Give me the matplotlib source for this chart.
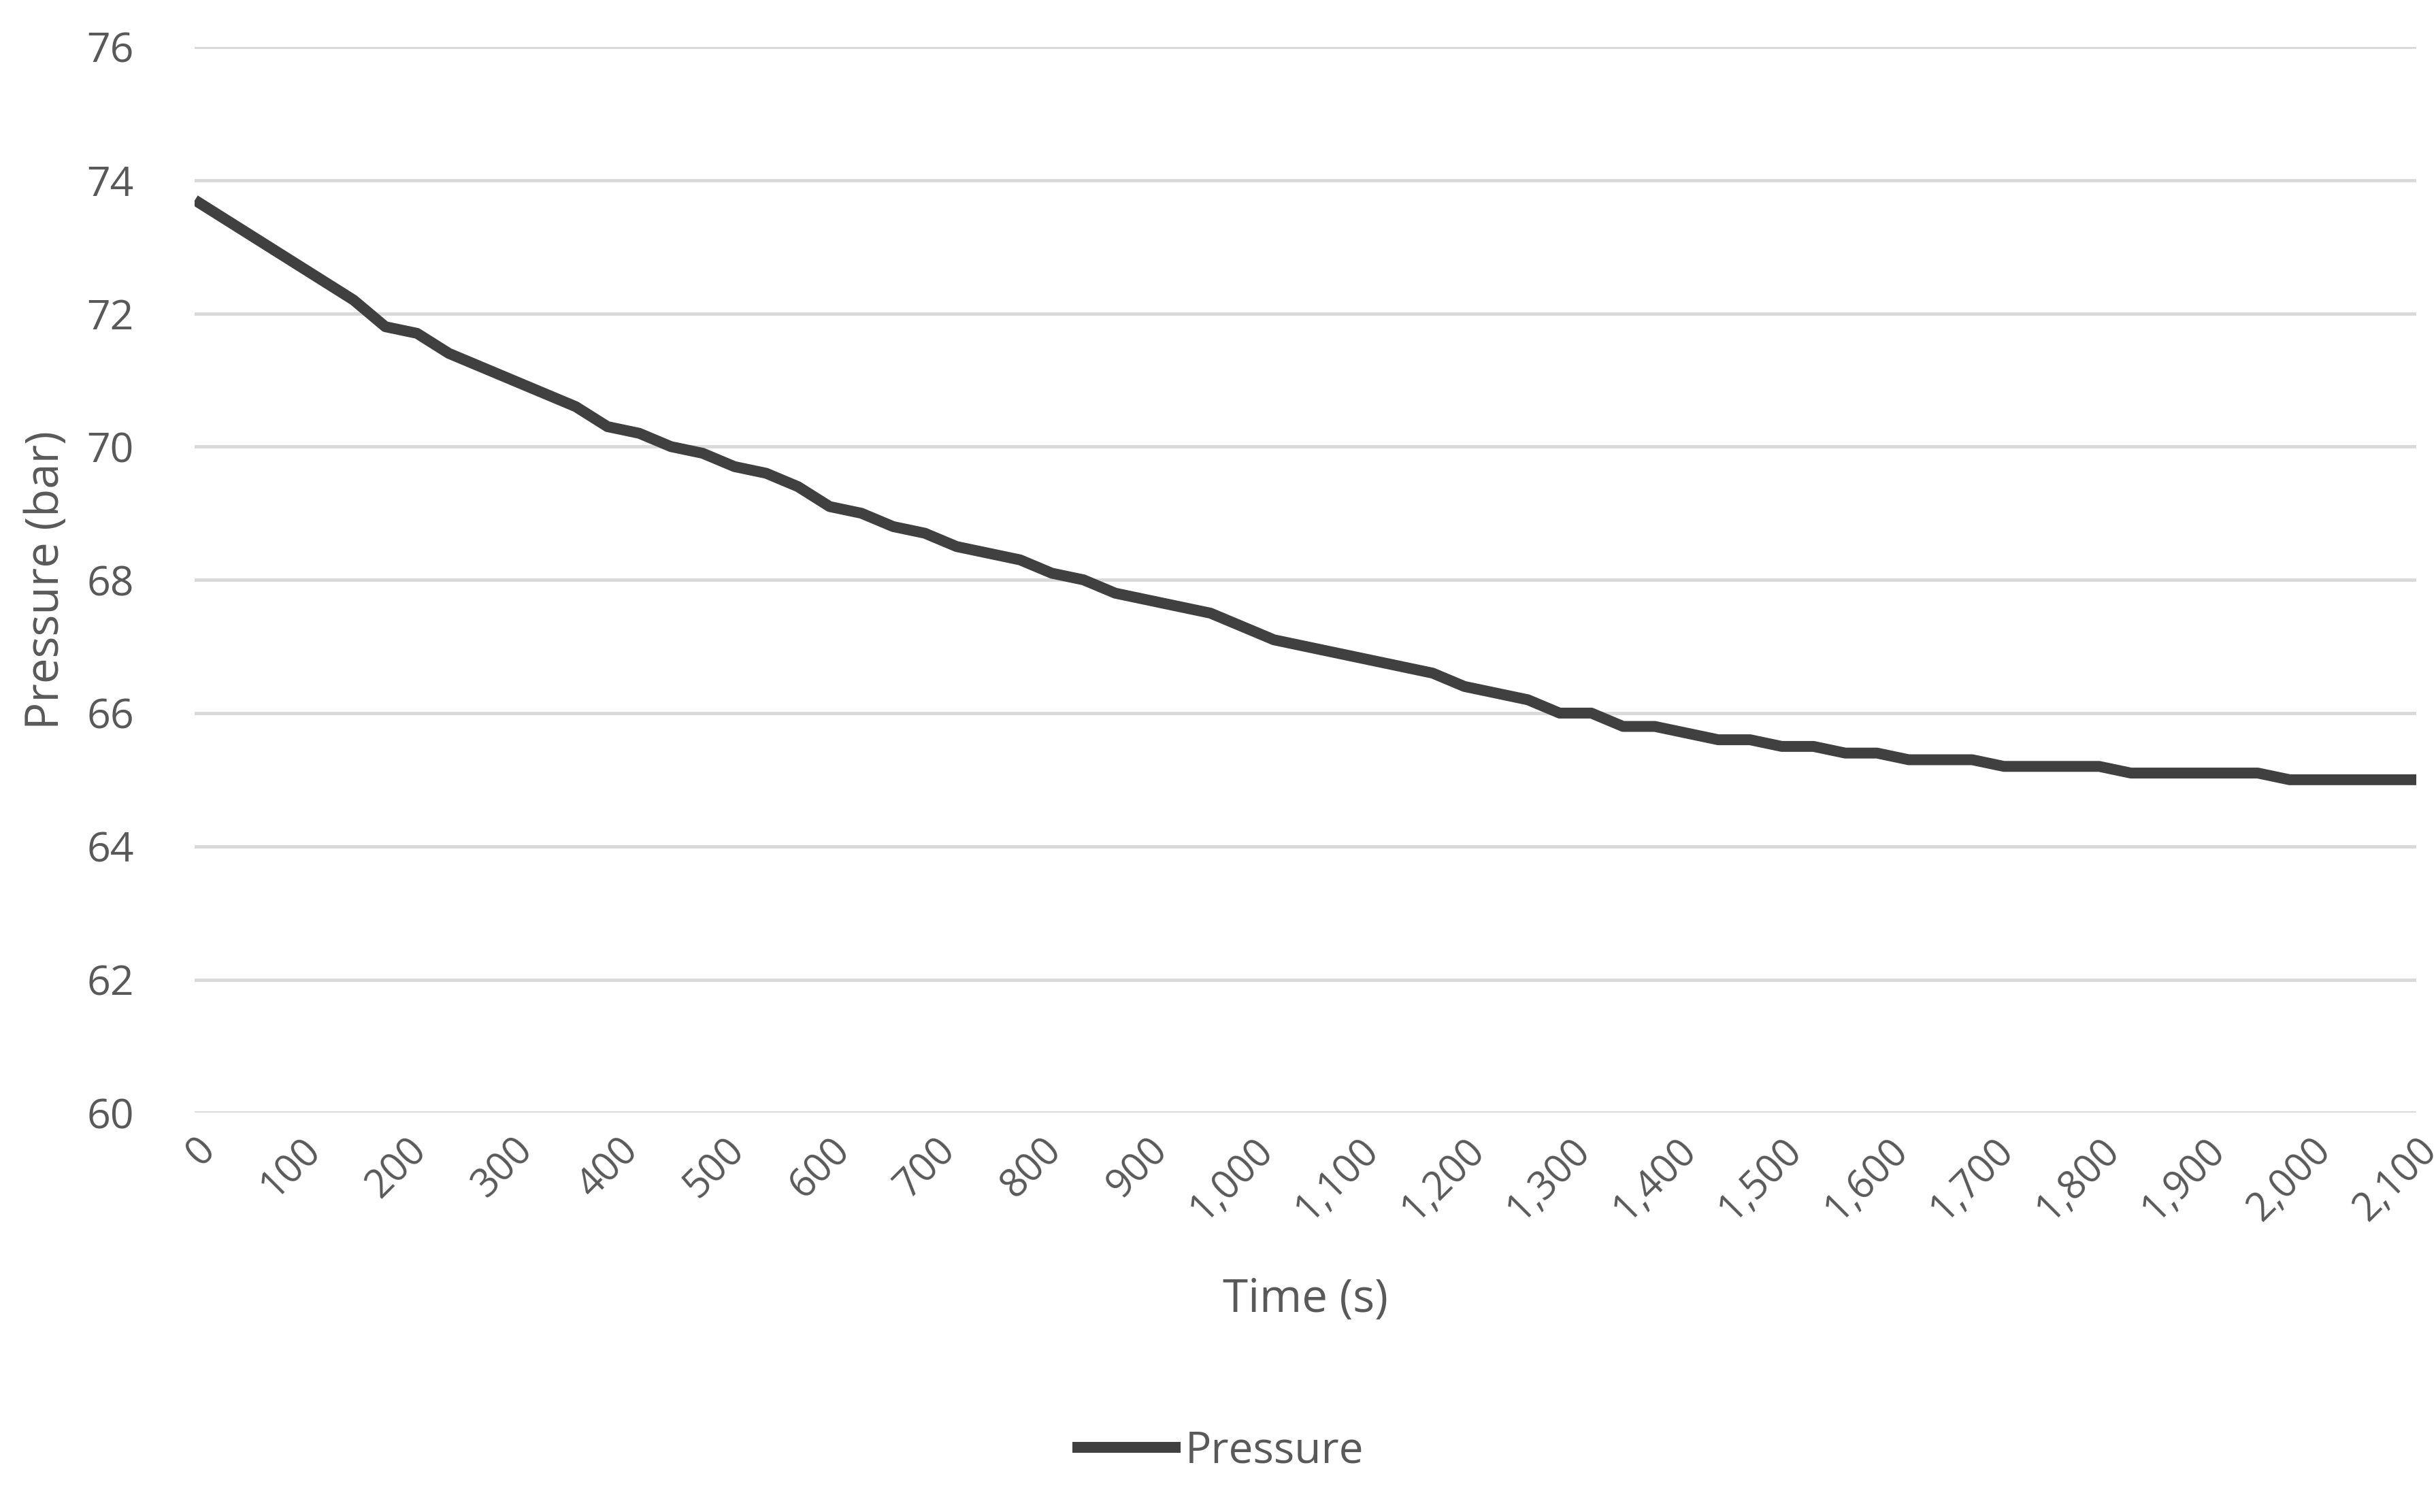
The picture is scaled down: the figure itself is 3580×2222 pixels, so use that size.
import matplotlib.pyplot as plt
from matplotlib.ticker import FuncFormatter, MultipleLocator

# time in seconds, sampled every 30 s
time_s = list(range(0, 2101, 30))
pressure_bar = [
    73.7, 73.4, 73.1, 72.8, 72.5, 72.2, 71.8, 71.7, 71.4, 71.2,
    71.0, 70.8, 70.6, 70.3, 70.2, 70.0, 69.9, 69.7, 69.6, 69.4,
    69.1, 69.0, 68.8, 68.7, 68.5, 68.4, 68.3, 68.1, 68.0, 67.8,
    67.7, 67.6, 67.5, 67.3, 67.1, 67.0, 66.9, 66.8, 66.7, 66.6,
    66.4, 66.3, 66.2, 66.0, 66.0, 65.8, 65.8, 65.7, 65.6, 65.6,
    65.5, 65.5, 65.4, 65.4, 65.3, 65.3, 65.3, 65.2, 65.2, 65.2,
    65.2, 65.1, 65.1, 65.1, 65.1, 65.1, 65.0, 65.0, 65.0, 65.0,
    65.0,
]

plt.rcParams['font.family'] = ['Open Sans', 'DejaVu Sans']
txt = '#595959'

fig = plt.figure(figsize=(3580 / 230, 2222 / 230), dpi=230)
ax = fig.add_axes([0.080, 0.264, 0.912, 0.705])

ax.plot(time_s, pressure_bar, color='#404040', lw=5, label='Pressure',
        solid_capstyle='butt', zorder=3)

ax.set_xlim(0, 2100)
ax.set_ylim(60, 76)
ax.xaxis.set_major_locator(MultipleLocator(100))
ax.yaxis.set_major_locator(MultipleLocator(2))
ax.xaxis.set_major_formatter(FuncFormatter(lambda v, p: f'{int(v):,}'))
ax.grid(axis='y', color='#d9d9d9', lw=1.5)
ax.set_axisbelow(True)
for s in ax.spines.values():
    s.set_visible(False)
ax.tick_params(axis='y', length=0, colors=txt, labelsize=19, pad=28)
ax.tick_params(axis='x', length=0, colors=txt, labelsize=18, pad=8)
plt.setp(ax.get_xticklabels(), rotation=45, ha='right', rotation_mode='anchor')

ax.set_xlabel('Time (s)', color=txt, fontsize=21, labelpad=22)
ax.set_ylabel('Pressure (bar)', color=txt, fontsize=21, labelpad=8)

fig.legend(loc='lower center', bbox_to_anchor=(0.5, 0.0), frameon=False,
           fontsize=20, labelcolor=txt, handlelength=2.5, handletextpad=0.1)

fig.savefig('out.png', dpi=230)
